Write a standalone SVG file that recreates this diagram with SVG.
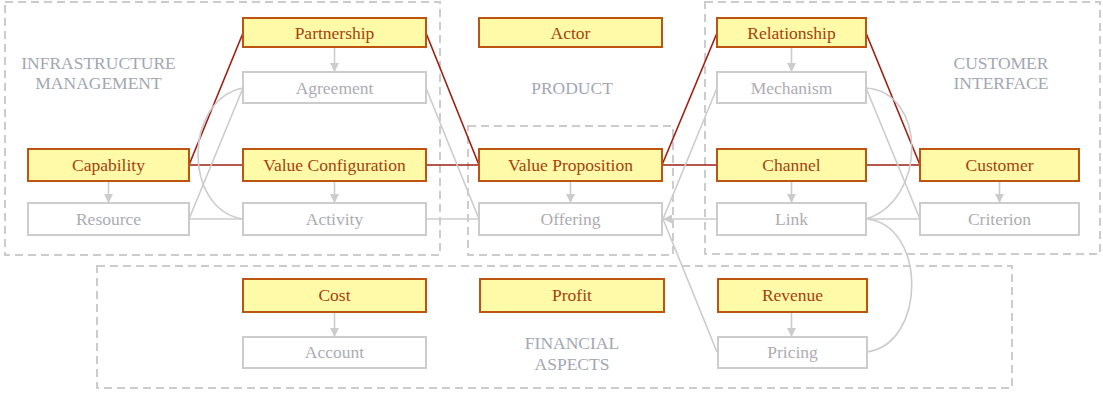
<svg xmlns="http://www.w3.org/2000/svg" width="1103" height="394" viewBox="0 0 1103 394">
  <style>
    .cluster { fill: none; stroke: #cccccc; stroke-width: 2; stroke-dasharray: 8 5; }
    .clabel { font-family: "Liberation Serif", "Times New Roman", serif; font-size: 17.5px; fill: #a3a7b2; text-anchor: middle; }
    .core rect { fill: #fffaa8; stroke: #bd5511; stroke-width: 2; }
    .core text { font-family: "Liberation Serif", "Times New Roman", serif; font-size: 17.5px; fill: #a4420e; text-anchor: middle; }
    .sub rect { fill: #ffffff; stroke: #cccccc; stroke-width: 2; }
    .sub text { font-family: "Liberation Serif", "Times New Roman", serif; font-size: 17.5px; fill: #acacb2; text-anchor: middle; }
    .red { fill: none; stroke: #9e1f14; stroke-width: 1.6; }
    .grey { fill: none; stroke: #cccccc; stroke-width: 1.6; }
    .arrow { fill: none; stroke: #cccccc; stroke-width: 1.6; marker-end: url(#head); }
  </style>
  <defs>
    <marker id="head" viewBox="0 0 10 10" refX="10" refY="5" markerWidth="9" markerHeight="9" markerUnits="userSpaceOnUse" orient="auto">
      <path d="M0,0 L10,5 L0,10 z" fill="#cccccc"/>
    </marker>
  </defs>

  <!-- clusters -->
  <g id="clusters">
    <rect class="cluster" x="5" y="2" width="435" height="253"/>
    <rect class="cluster" x="468" y="126" width="205" height="129"/>
    <rect class="cluster" x="705" y="2" width="395" height="252"/>
    <rect class="cluster" x="97" y="266" width="915" height="122"/>
    <text class="clabel" x="98.5" y="69">INFRASTRUCTURE</text>
    <text class="clabel" x="98.5" y="89">MANAGEMENT</text>
    <text class="clabel" x="572" y="94">PRODUCT</text>
    <text class="clabel" x="1001" y="69">CUSTOMER</text>
    <text class="clabel" x="1001" y="89">INTERFACE</text>
    <text class="clabel" x="572" y="349">FINANCIAL</text>
    <text class="clabel" x="572" y="370">ASPECTS</text>
  </g>

  <!-- connectors -->
  <g id="connectors">
    <!-- core links -->
    <line class="red" x1="189" y1="165" x2="243" y2="33"/>
    <line class="red" x1="189" y1="165" x2="243" y2="165"/>
    <line class="red" x1="426" y1="33" x2="479" y2="165"/>
    <line class="red" x1="426" y1="165" x2="479" y2="165"/>
    <line class="red" x1="662" y1="165" x2="717" y2="33"/>
    <line class="red" x1="662" y1="165" x2="717" y2="165"/>
    <line class="red" x1="866" y1="33" x2="920" y2="165"/>
    <line class="red" x1="866" y1="165" x2="920" y2="165"/>

    <!-- refinements -->
    <line class="arrow" x1="334.5" y1="48" x2="334.5" y2="72"/>
    <line class="arrow" x1="108.5" y1="182" x2="108.5" y2="203"/>
    <line class="arrow" x1="334.5" y1="182" x2="334.5" y2="203"/>
    <line class="arrow" x1="570.5" y1="182" x2="570.5" y2="203"/>
    <line class="arrow" x1="791.5" y1="48" x2="791.5" y2="72"/>
    <line class="arrow" x1="791.5" y1="182" x2="791.5" y2="203"/>
    <line class="arrow" x1="999.5" y1="182" x2="999.5" y2="203"/>
    <line class="arrow" x1="334.5" y1="313" x2="334.5" y2="337"/>
    <line class="arrow" x1="791.5" y1="313" x2="791.5" y2="337"/>

    <!-- sub-element links -->
    <line class="grey" x1="189" y1="219" x2="243" y2="88"/>
    <line class="grey" x1="189" y1="219" x2="243" y2="219"/>
    <path class="grey" d="M243,88 C183,100 183,210 243,219"/>
    <line class="grey" x1="426" y1="88" x2="479" y2="219"/>
    <line class="grey" x1="426" y1="219" x2="479" y2="219"/>
    <line class="grey" x1="717" y1="88" x2="663" y2="219"/>
    <line class="arrow" x1="717" y1="219" x2="663" y2="219"/>
    <line class="grey" x1="717" y1="352" x2="663" y2="219"/>
    <line class="grey" x1="866" y1="88" x2="920" y2="219"/>
    <path class="grey" d="M866,88 C927,92 927,200 866,219"/>
    <line class="grey" x1="866" y1="219" x2="920" y2="219"/>
    <path class="grey" d="M866,219 C927,224 927,345 866,352"/>
  </g>

  <!-- core concepts -->
  <g id="partnership" class="core"><rect x="243" y="18" width="183" height="29"/><text x="334.5" y="38.5">Partnership</text></g>
  <g id="actor" class="core"><rect x="479" y="18" width="183" height="29"/><text x="570.5" y="38.5">Actor</text></g>
  <g id="relationship" class="core"><rect x="717" y="18" width="149" height="29"/><text x="791.5" y="38.5">Relationship</text></g>
  <g id="capability" class="core"><rect x="28" y="149" width="161" height="32"/><text x="108.5" y="171">Capability</text></g>
  <g id="value-configuration" class="core"><rect x="243" y="149" width="183" height="32"/><text x="334.5" y="171">Value Configuration</text></g>
  <g id="value-proposition" class="core"><rect x="479" y="149" width="183" height="32"/><text x="570.5" y="171">Value Proposition</text></g>
  <g id="channel" class="core"><rect x="717" y="149" width="149" height="32"/><text x="791.5" y="171">Channel</text></g>
  <g id="customer" class="core"><rect x="920" y="149" width="159" height="32"/><text x="999.5" y="171">Customer</text></g>
  <g id="cost" class="core"><rect x="243" y="279" width="183" height="33"/><text x="334.5" y="301">Cost</text></g>
  <g id="profit" class="core"><rect x="480" y="279" width="184" height="33"/><text x="572" y="301">Profit</text></g>
  <g id="revenue" class="core"><rect x="718" y="279" width="149" height="33"/><text x="792.5" y="301">Revenue</text></g>

  <!-- sub-elements -->
  <g id="agreement" class="sub"><rect x="243" y="72" width="183" height="31"/><text x="334.5" y="93.5">Agreement</text></g>
  <g id="mechanism" class="sub"><rect x="717" y="72" width="149" height="31"/><text x="791.5" y="93.5">Mechanism</text></g>
  <g id="resource" class="sub"><rect x="28" y="203" width="161" height="32"/><text x="108.5" y="225">Resource</text></g>
  <g id="activity" class="sub"><rect x="243" y="203" width="183" height="32"/><text x="334.5" y="225">Activity</text></g>
  <g id="offering" class="sub"><rect x="479" y="203" width="183" height="32"/><text x="570.5" y="225">Offering</text></g>
  <g id="link" class="sub"><rect x="717" y="203" width="149" height="32"/><text x="791.5" y="225">Link</text></g>
  <g id="criterion" class="sub"><rect x="920" y="203" width="159" height="32"/><text x="999.5" y="225">Criterion</text></g>
  <g id="account" class="sub"><rect x="243" y="337" width="183" height="31"/><text x="334.5" y="358">Account</text></g>
  <g id="pricing" class="sub"><rect x="718" y="337" width="149" height="31"/><text x="792.5" y="358">Pricing</text></g>
</svg>
